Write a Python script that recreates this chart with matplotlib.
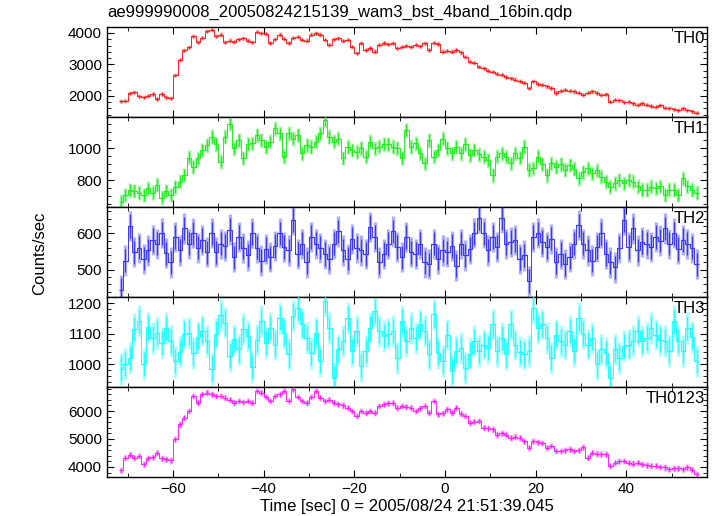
import numpy as np
import matplotlib
matplotlib.use("Agg")
import matplotlib.pyplot as plt
from matplotlib.ticker import MultipleLocator

plt.rcParams["font.family"] = ["Liberation Sans", "DejaVu Sans"]

title = "ae999990008_20050824215139_wam3_bst_4band_16bin.qdp"
xlabel = "Time [sec] 0 = 2005/08/24 21:51:39.045"
ylabel = "Counts/sec"
t_start = -71.5  # centre of first 1 s bin

th0 = [1830, 1850, 2080, 2110, 1990, 1960, 2010, 2060, 1900, 2060,
       1950, 1920, 2650, 3150, 3450, 3550, 3900, 3700, 3850, 4050,
       4100, 3900, 3950, 3700, 3760, 3720, 3800, 3830, 3760, 3700,
       4040, 3990, 3980, 3680, 3800, 3950, 3820, 3680, 3850, 3880,
       3780, 3760, 3950, 3990, 3950, 3780, 3620, 3800, 3830, 3750,
       3780, 3560, 3360, 3670, 3460, 3520, 3410, 3620, 3680, 3640,
       3670, 3510, 3560, 3600, 3560, 3620, 3580, 3670, 3460, 3690,
       3650, 3410, 3430, 3410, 3460, 3380, 3250, 3090, 3050, 2930,
       2880, 2800, 2770, 2700, 2670, 2600, 2560, 2520, 2460, 2420,
       2240, 2460, 2380, 2350, 2300, 2250, 2090, 2170, 2190, 2160,
       2140, 2100, 2040, 2100, 2140, 2090, 2040, 2050, 1820, 1880,
       1860, 1800, 1820, 1760, 1720, 1760, 1720, 1680, 1650, 1700,
       1620, 1610, 1580, 1540, 1600, 1540, 1510, 1470]

th1 = [665, 706, 737, 731, 719, 706, 748, 719, 769, 690,
       731, 706, 756, 790, 831, 940, 883, 935, 988, 1019,
       1071, 1025, 915, 1071, 1154, 998, 1050, 938, 1025, 1030,
       1081, 1050, 1008, 1040, 1123, 1092, 946, 1092, 1060, 1081,
       967, 1019, 1008, 1040, 1092, 1175, 1071, 1040, 1060, 938,
       1008, 988, 977, 1000, 946, 1040, 998, 1010, 1025, 1025,
       1008, 1000, 938, 1112, 1008, 1030, 967, 904, 1050, 946,
       988, 1060, 1000, 967, 1008, 967, 1025, 956, 988, 960,
       946, 925, 831, 946, 967, 946, 904, 967, 940, 1008,
       863, 873, 946, 900, 831, 904, 883, 900, 863, 894,
       870, 810, 850, 873, 842, 860, 821, 790, 758, 780,
       800, 779, 800, 790, 760, 738, 738, 758, 748, 760,
       706, 740, 738, 706, 810, 760, 738, 719]

th2 = [445, 525, 620, 548, 560, 530, 553, 581, 571, 600,
       545, 520, 590, 553, 613, 571, 600, 560, 581, 548,
       600, 548, 571, 565, 610, 534, 590, 560, 539, 600,
       560, 525, 557, 534, 565, 600, 562, 553, 636, 543,
       571, 520, 590, 571, 560, 543, 530, 571, 605, 553,
       530, 585, 560, 553, 543, 617, 590, 520, 543, 570,
       605, 562, 534, 590, 548, 543, 571, 520, 515, 571,
       530, 553, 548, 565, 511, 571, 539, 557, 600, 641,
       600, 553, 590, 562, 641, 571, 576, 581, 530, 539,
       469, 590, 600, 576, 562, 585, 520, 543, 515, 534,
       571, 622, 571, 553, 525, 562, 600, 543, 520, 506,
       560, 636, 562, 613, 553, 576, 571, 562, 590, 580,
       613, 571, 600, 557, 581, 571, 560, 515]

th3 = [985, 1000, 1020, 1115, 1141, 1000, 1120, 1086, 1103, 1070,
       1119, 1075, 1010, 1040, 1100, 1103, 1037, 1090, 1110, 1075,
       985, 1100, 1160, 1136, 1026, 1081, 1048, 1114, 1092, 990,
       1080, 1141, 1070, 1119, 1064, 1152, 1103, 1032, 1158, 1185,
       1130, 1086, 1037, 1103, 1010, 1207, 1119, 955, 1048, 1075,
       1152, 1043, 1108, 994, 1043, 1119, 1174, 1108, 1092, 1100,
       1108, 1021, 1141, 1075, 1119, 1086, 1130, 1108, 1032, 1163,
       1037, 1010, 1097, 978, 1043, 1053, 988, 1032, 1075, 1043,
       1064, 1053, 1130, 1043, 1086, 1032, 1130, 1064, 1040, 1032,
       1043, 1185, 1119, 1130, 1086, 1021, 1097, 1075, 1064, 1108,
       1043, 1152, 1100, 1064, 1086, 999, 1048, 1037, 955, 1048,
       1021, 1059, 1064, 1075, 1108, 1075, 1086, 1119, 1097, 1080,
       1075, 1043, 1141, 1075, 1043, 1119, 1090, 1010]

th0123 = [3880, 4330, 4440, 4330, 4390, 4100, 4310, 4350, 4510, 4310,
          4270, 4230, 4990, 5520, 5760, 6000, 6540, 6300, 6600, 6660,
          6600, 6540, 6540, 6480, 6400, 6300, 6360, 6320, 6360, 6300,
          6720, 6660, 6500, 6360, 6540, 6600, 6720, 6360, 6780, 6500,
          6360, 6300, 6500, 6720, 6480, 6360, 6400, 6300, 6240, 6200,
          6120, 6000, 5820, 6000, 5940, 6000, 5940, 6180, 6240, 6280,
          6300, 6120, 6180, 6150, 6120, 6000, 6100, 6180, 5940, 6360,
          5880, 5920, 6060, 5940, 6120, 5900, 5820, 5580, 5620, 5640,
          5400, 5380, 5340, 5160, 5200, 5160, 5040, 5080, 5040, 4920,
          4690, 4920, 4880, 4860, 4690, 4750, 4570, 4570, 4600, 4630,
          4570, 4600, 4700, 4330, 4510, 4480, 4450, 4450, 4040, 4150,
          4200, 4210, 4150, 4120, 4150, 4100, 4060, 4040, 4040, 4000,
          3980, 3920, 3950, 3950, 3920, 3980, 3900, 3740]

names = ["TH0", "TH1", "TH2", "TH3", "TH0123"]
errors = [50, 36, 32, 40, 85]
colors = ["#ff2020", "#22ee22", "#3a3af0", "#22ffff", "#ff22ff"]
light = ["#ffb0b0", "#a8f8a8", "#b0b0f8", "#a8ffff", "#ffb0ff"]
ylims = [(1330, 4190), (631, 1195), (425, 672), (925, 1220), (3640, 6860)]
ymajor = [1000, 200, 100, 100, 1000]
yminor = [200, 50, 20, 20, 200]

series = [th0, th1, th2, th3, th0123]

fig, axes = plt.subplots(5, 1, sharex=True, figsize=(7.17, 5.16), dpi=100)
fig.subplots_adjust(left=0.149, right=0.986, bottom=0.0756, top=0.9477, hspace=0)

for ax, vals, name, err, c, lc, yl, ma, mi in zip(axes, series, names, errors, colors,
                                                  light, ylims, ymajor, yminor):
    vals = np.array(vals)
    t = t_start + np.arange(len(vals))
    ax.errorbar(t, vals, yerr=err * 1.3, fmt="none", ecolor=lc, elinewidth=2.4, zorder=1)
    ax.step(t, vals, where="mid", color=c, lw=0.7, zorder=2)
    ax.errorbar(t, vals, xerr=0.5, yerr=err, fmt="none", ecolor=c, elinewidth=0.9, zorder=3)
    ax.set_ylim(*yl)
    ax.yaxis.set_major_locator(MultipleLocator(ma))
    ax.yaxis.set_minor_locator(MultipleLocator(mi))
    ax.text(0.997, 0.96, name, transform=ax.transAxes, ha="right", va="top", fontsize=12)
    ax.tick_params(which="both", direction="in", top=True, right=True, labelsize=11)
    ax.tick_params(which="major", length=5)
    ax.tick_params(which="minor", length=3)
    for sp in ax.spines.values():
        sp.set_linewidth(1.0)

axes[-1].set_xlim(-74.6, 57.8)
axes[-1].xaxis.set_major_locator(MultipleLocator(20))
axes[-1].xaxis.set_minor_locator(MultipleLocator(10))
axes[-1].set_xlabel(xlabel, fontsize=12, labelpad=2)
fig.text(0.055, 0.51, ylabel, rotation=90, ha="center", va="center", fontsize=12)
fig.text(0.149, 0.962, title, ha="left", va="bottom", fontsize=12)

fig.savefig("out.png", dpi=100)
